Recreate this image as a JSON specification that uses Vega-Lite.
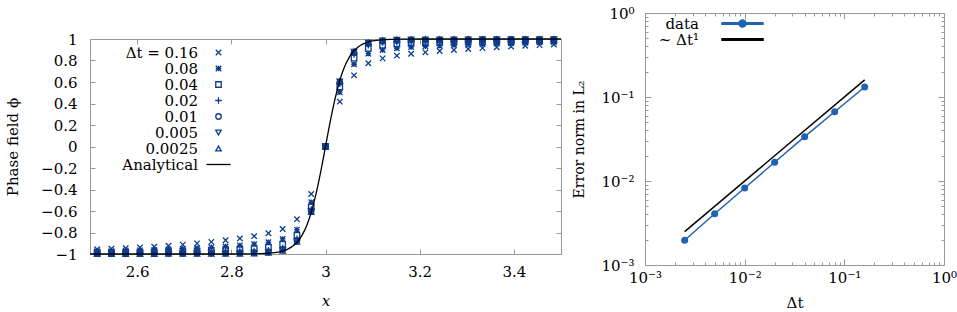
{
  "$schema": "https://vega.github.io/schema/vega-lite/v6.json",
  "padding": {"left": 5, "top": 5, "right": 0, "bottom": 0},
  "spacing": 7,
  "resolve": {"scale": {"color": "independent", "shape": "independent"}, "legend": {"color": "independent", "shape": "independent"}},
  "config": {
    "font": "DejaVu Serif",
    "view": {"stroke": "#999", "strokeWidth": 1},
    "axis": {
      "domain": false, "grid": false, "tickColor": "#999", "tickSize": -5, "tickWidth": 1,
      "labelFont": "DejaVu Serif", "labelFontSize": 15, "labelColor": "#000",
      "labelFlush": false, "labelOverlap": false, "labelBound": false,
      "titleFont": "DejaVu Serif", "titleFontSize": 15, "titleFontWeight": "normal", "titleColor": "#000"
    },
    "legend": {"labelFont": "DejaVu Serif", "labelColor": "#000"}
  },
  "datasets": {
    "pts": [
      {"x":2.5152,"y":-0.955,"s":"0.16"},{"x":2.5455,"y":-0.951,"s":"0.16"},{"x":2.5758,"y":-0.946,"s":"0.16"},{"x":2.6061,"y":-0.939,"s":"0.16"},{"x":2.6364,"y":-0.932,"s":"0.16"},{"x":2.6667,"y":-0.923,"s":"0.16"},{"x":2.697,"y":-0.913,"s":"0.16"},{"x":2.7273,"y":-0.901,"s":"0.16"},{"x":2.7576,"y":-0.887,"s":"0.16"},{"x":2.7879,"y":-0.872,"s":"0.16"},{"x":2.8182,"y":-0.855,"s":"0.16"},{"x":2.8485,"y":-0.834,"s":"0.16"},{"x":2.8788,"y":-0.807,"s":"0.16"},{"x":2.9091,"y":-0.767,"s":"0.16"},{"x":2.9394,"y":-0.676,"s":"0.16"},{"x":2.9697,"y":-0.442,"s":"0.16"},{"x":3.0,"y":0,"s":"0.16"},{"x":3.0303,"y":0.417,"s":"0.16"},{"x":3.0606,"y":0.662,"s":"0.16"},{"x":3.0909,"y":0.774,"s":"0.16"},{"x":3.1212,"y":0.82,"s":"0.16"},{"x":3.1515,"y":0.845,"s":"0.16"},{"x":3.1818,"y":0.863,"s":"0.16"},{"x":3.2121,"y":0.876,"s":"0.16"},{"x":3.2424,"y":0.888,"s":"0.16"},{"x":3.2727,"y":0.898,"s":"0.16"},{"x":3.303,"y":0.907,"s":"0.16"},{"x":3.3333,"y":0.915,"s":"0.16"},{"x":3.3636,"y":0.923,"s":"0.16"},{"x":3.3939,"y":0.93,"s":"0.16"},{"x":3.4242,"y":0.937,"s":"0.16"},{"x":3.4545,"y":0.943,"s":"0.16"},{"x":3.4848,"y":0.949,"s":"0.16"},
      {"x":2.5152,"y":-0.975,"s":"0.08"},{"x":2.5455,"y":-0.973,"s":"0.08"},{"x":2.5758,"y":-0.97,"s":"0.08"},{"x":2.6061,"y":-0.966,"s":"0.08"},{"x":2.6364,"y":-0.963,"s":"0.08"},{"x":2.6667,"y":-0.958,"s":"0.08"},{"x":2.697,"y":-0.952,"s":"0.08"},{"x":2.7273,"y":-0.946,"s":"0.08"},{"x":2.7576,"y":-0.938,"s":"0.08"},{"x":2.7879,"y":-0.93,"s":"0.08"},{"x":2.8182,"y":-0.92,"s":"0.08"},{"x":2.8485,"y":-0.908,"s":"0.08"},{"x":2.8788,"y":-0.891,"s":"0.08"},{"x":2.9091,"y":-0.86,"s":"0.08"},{"x":2.9394,"y":-0.773,"s":"0.08"},{"x":2.9697,"y":-0.519,"s":"0.08"},{"x":3.0,"y":0,"s":"0.08"},{"x":3.0303,"y":0.505,"s":"0.08"},{"x":3.0606,"y":0.765,"s":"0.08"},{"x":3.0909,"y":0.864,"s":"0.08"},{"x":3.1212,"y":0.898,"s":"0.08"},{"x":3.1515,"y":0.914,"s":"0.08"},{"x":3.1818,"y":0.925,"s":"0.08"},{"x":3.2121,"y":0.932,"s":"0.08"},{"x":3.2424,"y":0.938,"s":"0.08"},{"x":3.2727,"y":0.944,"s":"0.08"},{"x":3.303,"y":0.949,"s":"0.08"},{"x":3.3333,"y":0.953,"s":"0.08"},{"x":3.3636,"y":0.958,"s":"0.08"},{"x":3.3939,"y":0.961,"s":"0.08"},{"x":3.4242,"y":0.965,"s":"0.08"},{"x":3.4545,"y":0.969,"s":"0.08"},{"x":3.4848,"y":0.972,"s":"0.08"},
      {"x":2.5152,"y":-0.986,"s":"0.04"},{"x":2.5455,"y":-0.985,"s":"0.04"},{"x":2.5758,"y":-0.984,"s":"0.04"},{"x":2.6061,"y":-0.982,"s":"0.04"},{"x":2.6364,"y":-0.98,"s":"0.04"},{"x":2.6667,"y":-0.977,"s":"0.04"},{"x":2.697,"y":-0.974,"s":"0.04"},{"x":2.7273,"y":-0.97,"s":"0.04"},{"x":2.7576,"y":-0.966,"s":"0.04"},{"x":2.7879,"y":-0.962,"s":"0.04"},{"x":2.8182,"y":-0.956,"s":"0.04"},{"x":2.8485,"y":-0.949,"s":"0.04"},{"x":2.8788,"y":-0.937,"s":"0.04"},{"x":2.9091,"y":-0.911,"s":"0.04"},{"x":2.9394,"y":-0.826,"s":"0.04"},{"x":2.9697,"y":-0.562,"s":"0.04"},{"x":3.0,"y":0,"s":"0.04"},{"x":3.0303,"y":0.554,"s":"0.04"},{"x":3.0606,"y":0.822,"s":"0.04"},{"x":3.0909,"y":0.913,"s":"0.04"},{"x":3.1212,"y":0.941,"s":"0.04"},{"x":3.1515,"y":0.952,"s":"0.04"},{"x":3.1818,"y":0.959,"s":"0.04"},{"x":3.2121,"y":0.963,"s":"0.04"},{"x":3.2424,"y":0.966,"s":"0.04"},{"x":3.2727,"y":0.969,"s":"0.04"},{"x":3.303,"y":0.972,"s":"0.04"},{"x":3.3333,"y":0.974,"s":"0.04"},{"x":3.3636,"y":0.977,"s":"0.04"},{"x":3.3939,"y":0.979,"s":"0.04"},{"x":3.4242,"y":0.981,"s":"0.04"},{"x":3.4545,"y":0.983,"s":"0.04"},{"x":3.4848,"y":0.985,"s":"0.04"},
      {"x":2.5152,"y":-0.993,"s":"0.02"},{"x":2.5455,"y":-0.993,"s":"0.02"},{"x":2.5758,"y":-0.992,"s":"0.02"},{"x":2.6061,"y":-0.991,"s":"0.02"},{"x":2.6364,"y":-0.99,"s":"0.02"},{"x":2.6667,"y":-0.988,"s":"0.02"},{"x":2.697,"y":-0.987,"s":"0.02"},{"x":2.7273,"y":-0.985,"s":"0.02"},{"x":2.7576,"y":-0.983,"s":"0.02"},{"x":2.7879,"y":-0.981,"s":"0.02"},{"x":2.8182,"y":-0.978,"s":"0.02"},{"x":2.8485,"y":-0.973,"s":"0.02"},{"x":2.8788,"y":-0.965,"s":"0.02"},{"x":2.9091,"y":-0.942,"s":"0.02"},{"x":2.9394,"y":-0.859,"s":"0.02"},{"x":2.9697,"y":-0.587,"s":"0.02"},{"x":3.0,"y":0,"s":"0.02"},{"x":3.0303,"y":0.584,"s":"0.02"},{"x":3.0606,"y":0.857,"s":"0.02"},{"x":3.0909,"y":0.943,"s":"0.02"},{"x":3.1212,"y":0.967,"s":"0.02"},{"x":3.1515,"y":0.975,"s":"0.02"},{"x":3.1818,"y":0.979,"s":"0.02"},{"x":3.2121,"y":0.981,"s":"0.02"},{"x":3.2424,"y":0.983,"s":"0.02"},{"x":3.2727,"y":0.985,"s":"0.02"},{"x":3.303,"y":0.986,"s":"0.02"},{"x":3.3333,"y":0.987,"s":"0.02"},{"x":3.3636,"y":0.988,"s":"0.02"},{"x":3.3939,"y":0.989,"s":"0.02"},{"x":3.4242,"y":0.991,"s":"0.02"},{"x":3.4545,"y":0.991,"s":"0.02"},{"x":3.4848,"y":0.992,"s":"0.02"},
      {"x":2.5152,"y":-0.996,"s":"0.01"},{"x":2.5455,"y":-0.996,"s":"0.01"},{"x":2.5758,"y":-0.996,"s":"0.01"},{"x":2.6061,"y":-0.995,"s":"0.01"},{"x":2.6364,"y":-0.995,"s":"0.01"},{"x":2.6667,"y":-0.994,"s":"0.01"},{"x":2.697,"y":-0.993,"s":"0.01"},{"x":2.7273,"y":-0.992,"s":"0.01"},{"x":2.7576,"y":-0.991,"s":"0.01"},{"x":2.7879,"y":-0.99,"s":"0.01"},{"x":2.8182,"y":-0.988,"s":"0.01"},{"x":2.8485,"y":-0.985,"s":"0.01"},{"x":2.8788,"y":-0.978,"s":"0.01"},{"x":2.9091,"y":-0.957,"s":"0.01"},{"x":2.9394,"y":-0.874,"s":"0.01"},{"x":2.9697,"y":-0.599,"s":"0.01"},{"x":3.0,"y":0,"s":"0.01"},{"x":3.0303,"y":0.597,"s":"0.01"},{"x":3.0606,"y":0.873,"s":"0.01"},{"x":3.0909,"y":0.957,"s":"0.01"},{"x":3.1212,"y":0.979,"s":"0.01"},{"x":3.1515,"y":0.986,"s":"0.01"},{"x":3.1818,"y":0.989,"s":"0.01"},{"x":3.2121,"y":0.99,"s":"0.01"},{"x":3.2424,"y":0.991,"s":"0.01"},{"x":3.2727,"y":0.992,"s":"0.01"},{"x":3.303,"y":0.993,"s":"0.01"},{"x":3.3333,"y":0.993,"s":"0.01"},{"x":3.3636,"y":0.994,"s":"0.01"},{"x":3.3939,"y":0.994,"s":"0.01"},{"x":3.4242,"y":0.995,"s":"0.01"},{"x":3.4545,"y":0.995,"s":"0.01"},{"x":3.4848,"y":0.996,"s":"0.01"},
      {"x":2.5152,"y":-0.998,"s":"0.005"},{"x":2.5455,"y":-0.998,"s":"0.005"},{"x":2.5758,"y":-0.998,"s":"0.005"},{"x":2.6061,"y":-0.998,"s":"0.005"},{"x":2.6364,"y":-0.997,"s":"0.005"},{"x":2.6667,"y":-0.997,"s":"0.005"},{"x":2.697,"y":-0.997,"s":"0.005"},{"x":2.7273,"y":-0.996,"s":"0.005"},{"x":2.7576,"y":-0.995,"s":"0.005"},{"x":2.7879,"y":-0.995,"s":"0.005"},{"x":2.8182,"y":-0.994,"s":"0.005"},{"x":2.8485,"y":-0.991,"s":"0.005"},{"x":2.8788,"y":-0.986,"s":"0.005"},{"x":2.9091,"y":-0.965,"s":"0.005"},{"x":2.9394,"y":-0.882,"s":"0.005"},{"x":2.9697,"y":-0.606,"s":"0.005"},{"x":3.0,"y":0,"s":"0.005"},{"x":3.0303,"y":0.605,"s":"0.005"},{"x":3.0606,"y":0.882,"s":"0.005"},{"x":3.0909,"y":0.965,"s":"0.005"},{"x":3.1212,"y":0.986,"s":"0.005"},{"x":3.1515,"y":0.992,"s":"0.005"},{"x":3.1818,"y":0.995,"s":"0.005"},{"x":3.2121,"y":0.995,"s":"0.005"},{"x":3.2424,"y":0.996,"s":"0.005"},{"x":3.2727,"y":0.996,"s":"0.005"},{"x":3.303,"y":0.996,"s":"0.005"},{"x":3.3333,"y":0.997,"s":"0.005"},{"x":3.3636,"y":0.997,"s":"0.005"},{"x":3.3939,"y":0.997,"s":"0.005"},{"x":3.4242,"y":0.997,"s":"0.005"},{"x":3.4545,"y":0.998,"s":"0.005"},{"x":3.4848,"y":0.998,"s":"0.005"},
      {"x":2.5152,"y":-0.999,"s":"0.0025"},{"x":2.5455,"y":-0.999,"s":"0.0025"},{"x":2.5758,"y":-0.999,"s":"0.0025"},{"x":2.6061,"y":-0.999,"s":"0.0025"},{"x":2.6364,"y":-0.999,"s":"0.0025"},{"x":2.6667,"y":-0.998,"s":"0.0025"},{"x":2.697,"y":-0.998,"s":"0.0025"},{"x":2.7273,"y":-0.998,"s":"0.0025"},{"x":2.7576,"y":-0.998,"s":"0.0025"},{"x":2.7879,"y":-0.997,"s":"0.0025"},{"x":2.8182,"y":-0.997,"s":"0.0025"},{"x":2.8485,"y":-0.995,"s":"0.0025"},{"x":2.8788,"y":-0.989,"s":"0.0025"},{"x":2.9091,"y":-0.969,"s":"0.0025"},{"x":2.9394,"y":-0.887,"s":"0.0025"},{"x":2.9697,"y":-0.61,"s":"0.0025"},{"x":3.0,"y":0,"s":"0.0025"},{"x":3.0303,"y":0.609,"s":"0.0025"},{"x":3.0606,"y":0.886,"s":"0.0025"},{"x":3.0909,"y":0.969,"s":"0.0025"},{"x":3.1212,"y":0.99,"s":"0.0025"},{"x":3.1515,"y":0.995,"s":"0.0025"},{"x":3.1818,"y":0.997,"s":"0.0025"},{"x":3.2121,"y":0.998,"s":"0.0025"},{"x":3.2424,"y":0.998,"s":"0.0025"},{"x":3.2727,"y":0.998,"s":"0.0025"},{"x":3.303,"y":0.998,"s":"0.0025"},{"x":3.3333,"y":0.998,"s":"0.0025"},{"x":3.3636,"y":0.998,"s":"0.0025"},{"x":3.3939,"y":0.999,"s":"0.0025"},{"x":3.4242,"y":0.999,"s":"0.0025"},{"x":3.4545,"y":0.999,"s":"0.0025"},{"x":3.4848,"y":0.999,"s":"0.0025"}
    ],
    "ana": [
      {"x":2.5,"y":-1},{"x":2.7,"y":-1},{"x":2.8,"y":-0.9998},{"x":2.84,"y":-0.9989},{"x":2.86,"y":-0.9973},{"x":2.88,"y":-0.993},{"x":2.9,"y":-0.9822},{"x":2.91,"y":-0.9717},{"x":2.92,"y":-0.955},{"x":2.93,"y":-0.9289},{"x":2.94,"y":-0.8883},{"x":2.95,"y":-0.827},{"x":2.96,"y":-0.7366},{"x":2.97,"y":-0.6089},{"x":2.98,"y":-0.4393},{"x":2.99,"y":-0.2315},{"x":3.0,"y":0},
      {"x":3.01,"y":0.2315},{"x":3.02,"y":0.4393},{"x":3.03,"y":0.6089},{"x":3.04,"y":0.7366},{"x":3.05,"y":0.827},{"x":3.06,"y":0.8883},{"x":3.07,"y":0.9289},{"x":3.08,"y":0.955},{"x":3.09,"y":0.9717},{"x":3.1,"y":0.9822},{"x":3.12,"y":0.993},{"x":3.14,"y":0.9973},{"x":3.16,"y":0.9989},{"x":3.2,"y":0.9998},{"x":3.3,"y":1},{"x":3.5,"y":1}
    ],
    "err": [
      {"dt":0.0025,"e":0.00197,"s":"data"},{"dt":0.005,"e":0.00408,"s":"data"},{"dt":0.01,"e":0.00826,"s":"data"},{"dt":0.02,"e":0.0167,"s":"data"},{"dt":0.04,"e":0.0337,"s":"data"},{"dt":0.08,"e":0.0668,"s":"data"},{"dt":0.16,"e":0.1315,"s":"data"},
      {"dt":0.0025,"e":0.0025,"s":"~ Δt¹"},{"dt":0.16,"e":0.16,"s":"~ Δt¹"}
    ]
  },
  "hconcat": [
    {
      "spacing": 17,
      "vconcat": [
        {
          "width": 10, "height": 1,
          "view": {"stroke": null},
          "data": {"values": [{}]},
          "mark": {"type": "point", "opacity": 0, "size": 1},
          "encoding": {}
        },
        {
          "width": 471, "height": 215,
          "layer": [
            {
              "data": {"name": "pts"},
              "mark": {"type": "point", "filled": false, "strokeWidth": 1.3, "size": 30, "opacity": 1},
              "encoding": {
                "x": {"field": "x", "type": "quantitative", "scale": {"domain": [2.5, 3.5], "nice": false, "zero": false},
                      "axis": {"orient": "bottom", "values": [2.6, 2.8, 3, 3.2, 3.4], "format": ".1~f", "title": "x", "titleFontStyle": "italic", "labelPadding": 15, "titlePadding": 14}},
                "y": {"field": "y", "type": "quantitative", "scale": {"domain": [-1, 1], "nice": false, "zero": false},
                      "axis": {"orient": "left", "values": [-1, -0.8, -0.6, -0.4, -0.2, 0, 0.2, 0.4, 0.6, 0.8, 1], "format": ".1~f", "title": "Phase field ϕ", "labelPadding": 18, "titlePadding": 20}},
                "color": {"field": "s", "type": "nominal",
                          "scale": {"domain": ["0.16", "0.08", "0.04", "0.02", "0.01", "0.005", "0.0025", "Analytical"], "range": ["#0d3c8f", "#0d3c8f", "#0d3c8f", "#0d3c8f", "#0d3c8f", "#0d3c8f", "#0d3c8f", "#000000"]},
                          "legend": {"title": null, "orient": "none", "legendX": 121, "legendY": 32, "padding": 0, "labelAlign": "right", "labelOffset": -28, "labelFontSize": 15, "rowPadding": 0, "symbolStrokeWidth": 1.3, "symbolSize": 30, "labelExpr": "datum.label == '0.16' ? 'Δt = 0.16' : datum.label"}},
                "shape": {"field": "s", "type": "nominal",
                          "scale": {"domain": ["0.16", "0.08", "0.04", "0.02", "0.01", "0.005", "0.0025", "Analytical"], "range": ["M-1,-1L1,1M-1,1L1,-1", "M-1,-1L1,1M-1,1L1,-1M-1,0H1M0,-1V1", "square", "M-1.2,0H1.2M0,-1.2V1.2", "circle", "triangle-down", "triangle-up", "M-4.4,0H4.4"]},
                          "legend": {"title": null, "orient": "none", "legendX": 121, "legendY": 32, "padding": 0, "labelAlign": "right", "labelOffset": -28, "labelFontSize": 15, "rowPadding": 0, "symbolStrokeWidth": 1.3, "symbolSize": 30, "labelExpr": "datum.label == '0.16' ? 'Δt = 0.16' : datum.label"}}
              }
            },
            {
              "data": {"name": "ana"},
              "mark": {"type": "line", "color": "#000000", "strokeWidth": 1.3, "interpolate": "monotone"},
              "encoding": {
                "x": {"field": "x", "type": "quantitative", "scale": {"domain": [2.5, 3.5], "nice": false, "zero": false},
                      "axis": {"orient": "top", "values": [2.6, 2.8, 3, 3.2, 3.4], "labels": false, "title": null}},
                "y": {"field": "y", "type": "quantitative", "scale": {"domain": [-1, 1], "nice": false, "zero": false},
                      "axis": {"orient": "right", "values": [-1, -0.8, -0.6, -0.4, -0.2, 0, 0.2, 0.4, 0.6, 0.8, 1], "labels": false, "title": null}}
              }
            }
          ],
          "resolve": {"axis": {"x": "independent", "y": "independent"}}
        }
      ]
    },
    {
      "width": 299, "height": 252,
      "data": {"name": "err"},
      "layer": [
        {
          "mark": {"type": "line", "strokeWidth": 1.5},
          "encoding": {
            "x": {"field": "dt", "type": "quantitative", "scale": {"type": "log", "domain": [0.001, 1], "nice": false},
                  "axis": {"orient": "bottom", "values": [0.001, 0.01, 0.1, 1], "labelExpr": "'10' + ['⁰','⁻¹','⁻²','⁻³'][-round(log(datum.value)/LN10)]", "title": "Δt", "tickSize": -6, "labelPadding": 11, "titlePadding": 10}},
            "y": {"field": "e", "type": "quantitative", "scale": {"type": "log", "domain": [0.001, 1], "nice": false},
                  "axis": {"orient": "left", "values": [0.001, 0.01, 0.1, 1], "labelExpr": "'10' + ['⁰','⁻¹','⁻²','⁻³'][-round(log(datum.value)/LN10)]", "title": "Error norm in L₂", "titleFontSize": 14, "tickSize": -6, "labelPadding": 17, "titlePadding": 14}},
            "color": {"field": "s", "type": "nominal", "scale": {"domain": ["data", "~ Δt¹"], "range": ["#1f63b5", "#000000"]},
                      "legend": {"title": null, "orient": "none", "legendX": 90, "legendY": 3, "padding": 0, "labelAlign": "right", "labelOffset": -51, "labelFontSize": 15, "rowPadding": 0, "symbolSize": 49,
                                 "encode": {"symbols": {"update": {"shape": {"signal": "datum.value == 'data' ? 'M-5.86,-0.21H5.86V0.21H-5.86Z M1,0A1,1,0,1,1,-1,0A1,1,0,1,1,1,0Z' : 'M-5.86,-0.21H5.86V0.21H-5.86Z'"}, "fill": {"signal": "datum.value == 'data' ? '#1f63b5' : '#000000'"}, "stroke": {"value": "transparent"}}}}}}
          }
        },
        {
          "transform": [{"filter": "datum.s == 'data'"}],
          "mark": {"type": "point", "filled": true, "size": 49, "opacity": 1, "shape": "circle"},
          "encoding": {
            "x": {"field": "dt", "type": "quantitative", "scale": {"type": "log", "domain": [0.001, 1], "nice": false},
                  "axis": {"orient": "top", "values": [0.001, 0.01, 0.1, 1], "labels": false, "title": null, "tickSize": -6}},
            "y": {"field": "e", "type": "quantitative", "scale": {"type": "log", "domain": [0.001, 1], "nice": false},
                  "axis": {"orient": "right", "values": [0.001, 0.01, 0.1, 1], "labels": false, "title": null, "tickSize": -6}},
            "color": {"field": "s", "type": "nominal", "scale": {"domain": ["data", "~ Δt¹"], "range": ["#1f63b5", "#000000"]},
                      "legend": {"title": null, "orient": "none", "legendX": 90, "legendY": 3, "padding": 0, "labelAlign": "right", "labelOffset": -51, "labelFontSize": 15, "rowPadding": 0, "symbolSize": 49,
                                 "encode": {"symbols": {"update": {"shape": {"signal": "datum.value == 'data' ? 'M-5.86,-0.21H5.86V0.21H-5.86Z M1,0A1,1,0,1,1,-1,0A1,1,0,1,1,1,0Z' : 'M-5.86,-0.21H5.86V0.21H-5.86Z'"}, "fill": {"signal": "datum.value == 'data' ? '#1f63b5' : '#000000'"}, "stroke": {"value": "transparent"}}}}}}
          }
        },
        {
          "mark": {"type": "point", "opacity": 0},
          "encoding": {
            "x": {"field": "dt", "type": "quantitative", "scale": {"type": "log", "domain": [0.001, 1], "nice": false},
                  "axis": {"orient": "bottom", "values": [0.002,0.003,0.004,0.005,0.006,0.007,0.008,0.009,0.02,0.03,0.04,0.05,0.06,0.07,0.08,0.09,0.2,0.3,0.4,0.5,0.6,0.7,0.8,0.9], "labels": false, "title": null, "tickSize": -3}},
            "y": {"field": "e", "type": "quantitative", "scale": {"type": "log", "domain": [0.001, 1], "nice": false},
                  "axis": {"orient": "left", "values": [0.002,0.003,0.004,0.005,0.006,0.007,0.008,0.009,0.02,0.03,0.04,0.05,0.06,0.07,0.08,0.09,0.2,0.3,0.4,0.5,0.6,0.7,0.8,0.9], "labels": false, "title": null, "tickSize": -3}}
          }
        },
        {
          "mark": {"type": "point", "opacity": 0},
          "encoding": {
            "x": {"field": "dt", "type": "quantitative", "scale": {"type": "log", "domain": [0.001, 1], "nice": false},
                  "axis": {"orient": "top", "values": [0.002,0.003,0.004,0.005,0.006,0.007,0.008,0.009,0.02,0.03,0.04,0.05,0.06,0.07,0.08,0.09,0.2,0.3,0.4,0.5,0.6,0.7,0.8,0.9], "labels": false, "title": null, "tickSize": -3}},
            "y": {"field": "e", "type": "quantitative", "scale": {"type": "log", "domain": [0.001, 1], "nice": false},
                  "axis": {"orient": "right", "values": [0.002,0.003,0.004,0.005,0.006,0.007,0.008,0.009,0.02,0.03,0.04,0.05,0.06,0.07,0.08,0.09,0.2,0.3,0.4,0.5,0.6,0.7,0.8,0.9], "labels": false, "title": null, "tickSize": -3}}
          }
        }
      ],
      "resolve": {"axis": {"x": "independent", "y": "independent"}}
    }
  ]
}
